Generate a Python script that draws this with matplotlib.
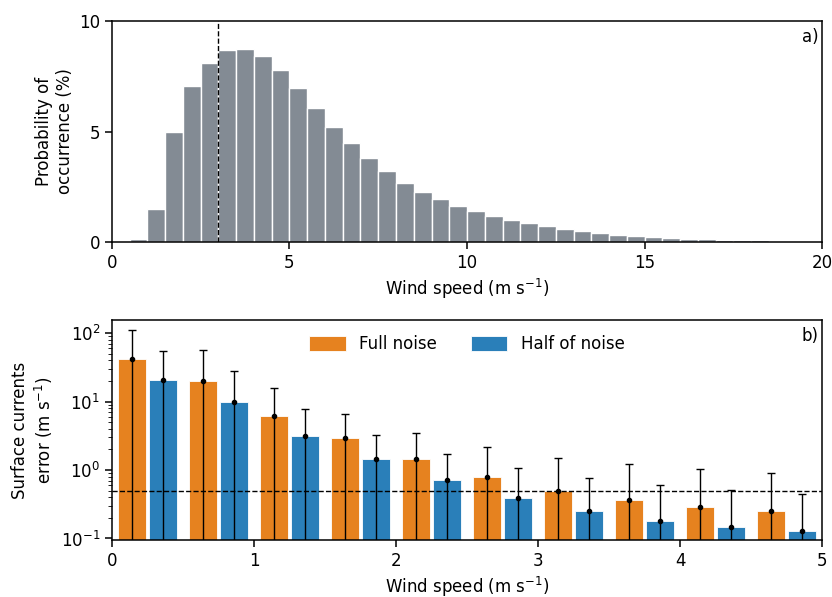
import numpy as np
import matplotlib
matplotlib.use("Agg")
import matplotlib.pyplot as plt

# panel a) wind speed histogram (0.5 m/s bins)
bin_edges = np.arange(0, 20.5, 0.5)
occurrence = [0.0, 0.15, 1.49, 4.96, 7.06, 8.08, 8.67, 8.73, 8.40, 7.77,
              6.95, 6.05, 5.20, 4.48, 3.80, 3.21, 2.68, 2.26, 1.93, 1.64,
              1.40, 1.19, 1.01, 0.86, 0.72, 0.59, 0.50, 0.41, 0.33, 0.27,
              0.23, 0.18, 0.15, 0.13, 0.10, 0.09, 0.07, 0.06, 0.05, 0.04]
wind_threshold = 3.0

# panel b) surface current error per wind bin
wind_bins = [0.25, 0.75, 1.25, 1.75, 2.25, 2.75, 3.25, 3.75, 4.25, 4.75]
full_mean = [42.2, 19.9, 6.13, 2.92, 1.43, 0.778, 0.496, 0.363, 0.290, 0.253]
full_top = [109, 56.5, 15.5, 6.49, 3.42, 2.13, 1.52, 1.205, 1.02, 0.90]
half_mean = [20.8, 9.93, 3.09, 1.46, 0.711, 0.388, 0.251, 0.181, 0.146, 0.128]
half_top = [55.2, 27.9, 7.67, 3.27, 1.71, 1.08, 0.769, 0.608, 0.508, 0.449]
error_threshold = 0.5

full_color = '#e6821f'
half_color = '#2a7fb9'

plt.rcParams['font.size'] = 12
plt.rcParams['axes.linewidth'] = 1.1
plt.rcParams['xtick.major.size'] = 5
plt.rcParams['ytick.major.size'] = 5
plt.rcParams['ytick.minor.size'] = 3
plt.rcParams['xtick.major.width'] = 1.1
plt.rcParams['ytick.major.width'] = 1.1

fig = plt.figure(figsize=(8.32, 5.97), dpi=100)
ax1 = fig.add_axes([0.1346, 0.5946, 0.8534, 0.3702])
ax2 = fig.add_axes([0.1346, 0.0955, 0.8534, 0.3685])

# --- a) histogram
ax1.bar(bin_edges[:-1], occurrence, width=0.5, align='edge',
        color='#838b94', edgecolor='white', linewidth=1)
ax1.axvline(wind_threshold, color='black', linestyle='--', linewidth=1)
ax1.set_xlim(0, 20)
ax1.set_ylim(0, 10)
ax1.set_yticks([0, 5, 10])
ax1.set_xticks([0, 5, 10, 15, 20])
ax1.set_xlabel('Wind speed (m s$^{-1}$)')
ax1.set_ylabel('Probability of\noccurrence (%)')
ax1.text(0.995, 0.97, 'a)', transform=ax1.transAxes, ha='right', va='top')

# --- b) bars with error bars
x = np.array(wind_bins)
off = 0.11
w = 0.2
full_err = np.array(full_top) - np.array(full_mean)
half_err = np.array(half_top) - np.array(half_mean)

ax2.bar(x - off, full_mean, width=w, color=full_color, edgecolor='white',
        linewidth=0.6, label='Full noise')
ax2.bar(x + off, half_mean, width=w, color=half_color, edgecolor='white',
        linewidth=0.6, label='Half of noise')
ax2.errorbar(x - off, full_mean, yerr=[full_mean, full_err], fmt='o',
             color='black', markersize=3, capsize=3, elinewidth=1)
ax2.errorbar(x + off, half_mean, yerr=[half_mean, half_err], fmt='o',
             color='black', markersize=3, capsize=3, elinewidth=1)
ax2.axhline(error_threshold, color='black', linestyle='--', linewidth=1)
ax2.set_yscale('log')
ax2.set_ylim(0.095, 155)
ax2.set_xlim(0, 5)
ax2.set_xticks([0, 1, 2, 3, 4, 5])
ax2.set_xlabel('Wind speed (m s$^{-1}$)')
ax2.set_ylabel('Surface currents\nerror (m s$^{-1}$)')
ax2.legend(loc='upper center', ncol=2, frameon=False,
           handleheight=1.0, handlelength=2.2)
ax2.text(0.995, 0.97, 'b)', transform=ax2.transAxes, ha='right', va='top')

fig.savefig('out.png', dpi=100)
